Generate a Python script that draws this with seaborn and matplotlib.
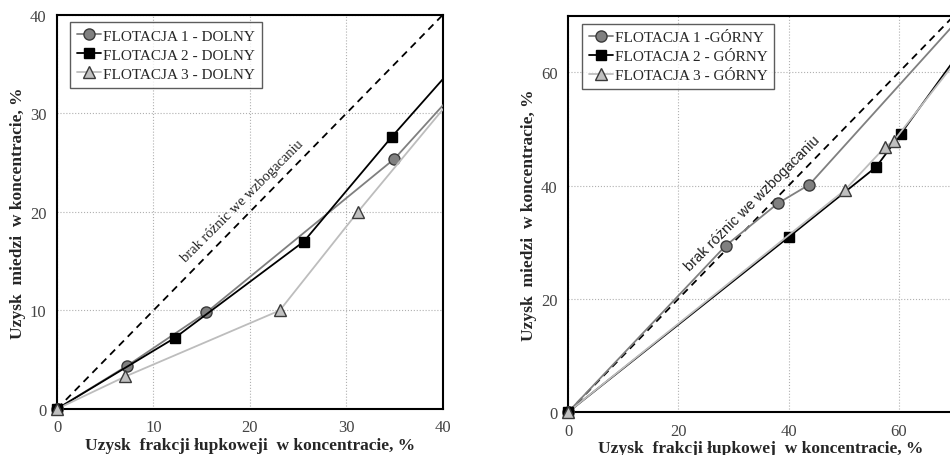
import numpy as np
import pandas as pd
import seaborn as sns
import matplotlib.pyplot as plt
from matplotlib.ticker import MultipleLocator
from matplotlib.lines import Line2D

# lower deposit (DOLNY) - last point lies beyond the visible axis range
f1_dolny_x = [0, 7.3, 15.5, 35.0, 45.0]
f1_dolny_y = [0, 4.4, 9.8, 25.4, 36.2]
f2_dolny_x = [0, 12.2, 25.6, 34.7, 45.0]
f2_dolny_y = [0, 7.2, 17.0, 27.6, 39.0]
f3_dolny_x = [0, 7.1, 23.1, 31.2, 45.0]
f3_dolny_y = [0, 3.3, 10.0, 20.0, 36.3]

# upper deposit (GÓRNY)
f1_gorny_x = [0, 28.6, 38.1, 43.8, 72.0]
f1_gorny_y = [0, 29.4, 36.9, 40.2, 70.6]
f2_gorny_x = [0, 40.0, 55.9, 60.4, 72.0]
f2_gorny_y = [0, 30.9, 43.3, 49.2, 64.8]
f3_gorny_x = [0, 50.2, 57.6, 59.1, 72.0]
f3_gorny_y = [0, 39.2, 46.9, 47.9, 64.0]

labels_dolny = ['FLOTACJA 1 - DOLNY', 'FLOTACJA 2 - DOLNY', 'FLOTACJA 3 - DOLNY']
labels_gorny = ['FLOTACJA 1 -GÓRNY', 'FLOTACJA 2 - GÓRNY', 'FLOTACJA 3 - GÓRNY']

sns.set_style('white')
plt.rcParams['font.family'] = ['Liberation Serif', 'DejaVu Serif']

line_cols = ['#7f7f7f', '#000000', '#bdbdbd']
face_cols = ['#808080', '#000000', '#c0c0c0']
edge_cols = ['#3a3a3a', '#000000', '#3a3a3a']
markers = ['o', 's', '^']
msizes = [8, 7, 8]


def make_df(xs, ys, labels):
    frames = []
    for x, y, lab in zip(xs, ys, labels):
        frames.append(pd.DataFrame({'x': x, 'y': y, 'seria': lab}))
    return pd.concat(frames, ignore_index=True)


def draw_panel(ax, df, labels, lim, major, xminor, yminor, xlabel, note_xy, note_font, leg_pos):
    ax.plot([0, lim], [0, lim], color='black', ls=(0, (4, 3)), lw=1.3, zorder=2)
    for i, lab in enumerate(labels):
        sub = df[df['seria'] == lab]
        sns.lineplot(data=sub, x='x', y='y', ax=ax, sort=False, color=line_cols[i],
                     lw=1.3, marker=markers[i], markersize=msizes[i],
                     markerfacecolor=face_cols[i], markeredgecolor=edge_cols[i],
                     markeredgewidth=1.0, legend=False, zorder=3 + i)
        # the marker at the origin sits on the spines, keep it unclipped
        ax.plot(sub['x'].iloc[:1], sub['y'].iloc[:1], ls='none', marker=markers[i],
                markersize=msizes[i], markerfacecolor=face_cols[i],
                markeredgecolor=edge_cols[i], markeredgewidth=1.0,
                clip_on=False, zorder=8 + i)
    ax.set_xlim(0, lim)
    ax.set_ylim(0, lim)
    ax.xaxis.set_major_locator(MultipleLocator(major))
    ax.yaxis.set_major_locator(MultipleLocator(major))
    ax.xaxis.set_minor_locator(MultipleLocator(xminor))
    ax.yaxis.set_minor_locator(MultipleLocator(yminor))
    ax.grid(True, which='major', color='#b0b0b0', ls=':', lw=0.8)
    ax.tick_params(which='major', direction='inout', length=8, width=1.2,
                   labelsize=12, labelcolor='#444444', color='black')
    ax.tick_params(which='minor', direction='in', length=4, width=1.0, color='black')
    for sp in ax.spines.values():
        sp.set_color('black')
        sp.set_linewidth(1.5)
    ax.set_xlabel(xlabel, fontsize=12.5, fontweight='bold', labelpad=1)
    ax.set_ylabel('Uzysk  miedzi  w koncentracie, %', fontsize=12.5, fontweight='bold', labelpad=3)
    handles = [Line2D([], [], color=line_cols[i], lw=1.3, marker=markers[i],
                      markersize=msizes[i], markerfacecolor=face_cols[i],
                      markeredgecolor=edge_cols[i]) for i in range(3)]
    leg = ax.legend(handles, labels, loc='upper left', bbox_to_anchor=leg_pos,
                    borderaxespad=0, fontsize=11, frameon=True, fancybox=False,
                    handlelength=1.6, handletextpad=0.1, borderpad=0.45,
                    labelspacing=0.35)
    leg.get_frame().set_edgecolor('#333333')
    leg.get_frame().set_linewidth(1.0)
    ax.text(note_xy[0], note_xy[1], 'brak różnic we wzbogacaniu', rotation=45,
            ha='center', va='center', fontsize=10.5, color='#222222',
            family=note_font, zorder=6)


fig = plt.figure(figsize=(9.5, 4.56), dpi=100)
ax1 = fig.add_axes([0.060, 0.101, 0.406, 0.864])
ax2 = fig.add_axes([0.598, 0.094, 0.406, 0.869])

df_d = make_df([f1_dolny_x, f2_dolny_x, f3_dolny_x], [f1_dolny_y, f2_dolny_y, f3_dolny_y], labels_dolny)
df_g = make_df([f1_gorny_x, f2_gorny_x, f3_gorny_x], [f1_gorny_y, f2_gorny_y, f3_gorny_y], labels_gorny)

draw_panel(ax1, df_d, labels_dolny, 40, 10, 5, 2,
           'Uzysk  frakcji łupkoweji  w koncentracie, %', (19.2, 21.2),
           ['Liberation Serif', 'DejaVu Serif'], (0.034, 0.982))
draw_panel(ax2, df_g, labels_gorny, 70, 20, 10, 10,
           'Uzysk  frakcji łupkowej  w koncentracie, %', (33.4, 37.0),
           ['Liberation Sans', 'DejaVu Sans'], (0.036, 0.98))

fig.savefig('out.png', dpi=100)
